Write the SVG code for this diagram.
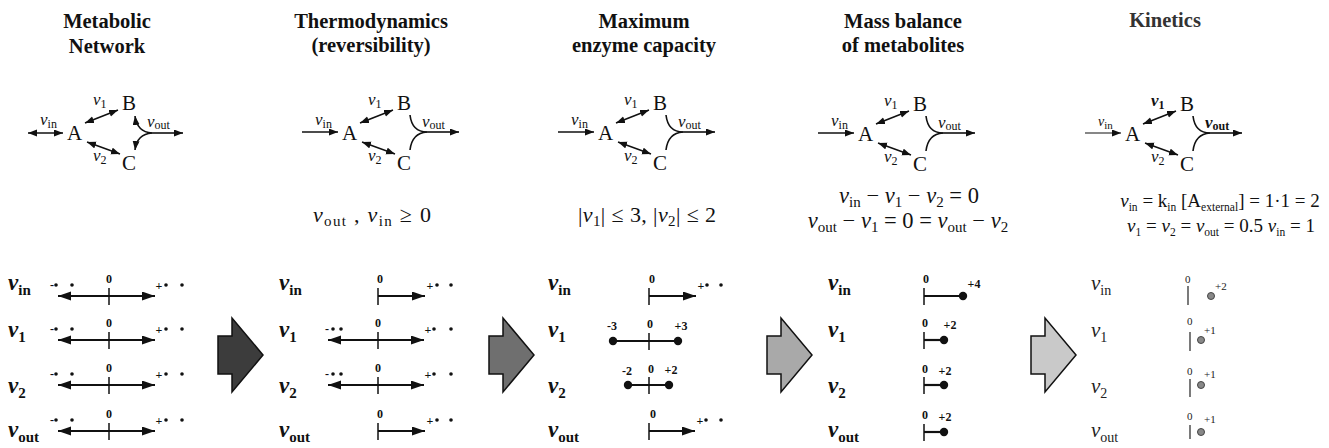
<svg xmlns="http://www.w3.org/2000/svg" width="1329" height="448" viewBox="0 0 1329 448">
<style>
text{font-family:"Liberation Serif","Times New Roman",serif;fill:#111}
.t{font-weight:bold;font-size:20.5px;text-anchor:middle}
.m{font-size:21px}
.nv{font-style:italic;font-size:17px}
.ns{font-style:normal;font-size:12px}
.eq{font-size:22px;text-anchor:middle}
.eq4{font-size:22.5px;text-anchor:middle}
.eq5{font-size:19px;text-anchor:middle}
.it{font-style:italic}
.sb{font-size:15px}
.sb5{font-size:11.5px}
.rl{font-style:italic;font-weight:bold;font-size:23px}
.rs{font-style:normal;font-size:15px}
.rl5{font-style:italic;font-size:21px;fill:#222}
.rs5{font-style:normal;font-size:14px}
.nb{font-weight:bold;font-size:12px;text-anchor:middle}
.nb5{font-size:11px;fill:#222}
.ln{stroke:#111;stroke-width:1.6;fill:none}
.rw{stroke:#111;stroke-width:2.2;fill:none}
.tk{stroke:#111;stroke-width:1.5}
.tk5{stroke:#333;stroke-width:1.3}
.dot{fill:#111}
.ball{fill:#111}
.gball{fill:#888;stroke:#444;stroke-width:1}
.big{stroke:#111;stroke-width:1.5}
</style>
<defs>
<marker id="sa" markerUnits="userSpaceOnUse" markerWidth="10" markerHeight="8" refX="9" refY="3.5" orient="auto-start-reverse"><path d="M0,0 L9,3.5 L0,7 z" fill="#111"/></marker>
<marker id="ah" markerUnits="userSpaceOnUse" markerWidth="14" markerHeight="10" refX="13" refY="4.5" orient="auto-start-reverse"><path d="M0,0 L13,4.5 L0,9 z" fill="#111"/></marker>
</defs>

<!-- titles -->
<g id="titles">
<text class="t" x="107" y="28">Metabolic</text>
<text class="t" x="107" y="53">Network</text>
<text class="t" x="371" y="28">Thermodynamics</text>
<text class="t" x="371" y="52">(reversibility)</text>
<text class="t" x="644" y="28">Maximum</text>
<text class="t" x="644" y="52">enzyme capacity</text>
<text class="t" x="903" y="28">Mass balance</text>
<text class="t" x="903" y="52">of metabolites</text>
<text class="t" x="1165" y="27" style="fill:#333">Kinetics</text>
</g>

<!-- networks -->
<g id="net1" transform="translate(67,0)">
<line class="ln" x1="-39" y1="133" x2="-4" y2="133" marker-start="url(#sa)" marker-end="url(#sa)"/>
<text class="nv" x="-27" y="125">ν<tspan class="ns" dy="3">in</tspan></text>
<text class="m" x="0" y="140">A</text>
<text class="m" x="55" y="110">B</text>
<text class="m" x="55" y="170">C</text>
<line class="ln" x1="18" y1="123" x2="51" y2="110" marker-start="url(#sa)" marker-end="url(#sa)"/>
<text class="nv" x="26" y="105">ν<tspan class="ns" dy="3">1</tspan></text>
<line class="ln" x1="20" y1="142" x2="53" y2="154" marker-start="url(#sa)" marker-end="url(#sa)"/>
<text class="nv" x="26" y="161">ν<tspan class="ns" dy="3">2</tspan></text>
<path class="ln" d="M85,133 Q70,132 68,116" marker-end="url(#sa)"/>
<path class="ln" d="M85,133 Q70,134 68,150" marker-end="url(#sa)"/>
<line class="ln" x1="85" y1="133" x2="116" y2="133" marker-end="url(#sa)"/>
<text class="nv" x="80" y="127">ν<tspan class="ns" dy="2">out</tspan></text>
</g>

<g id="net2" transform="translate(342,0)">
<line class="ln" x1="-40" y1="132" x2="-4" y2="132" marker-end="url(#sa)"/>
<text class="nv" x="-27" y="125">ν<tspan class="ns" dy="3">in</tspan></text>
<text class="m" x="0" y="140">A</text>
<text class="m" x="55" y="110">B</text>
<text class="m" x="55" y="170">C</text>
<line class="ln" x1="18" y1="123" x2="51" y2="110" marker-start="url(#sa)" marker-end="url(#sa)"/>
<text class="nv" x="26" y="105">ν<tspan class="ns" dy="3">1</tspan></text>
<line class="ln" x1="20" y1="142" x2="53" y2="154" marker-start="url(#sa)" marker-end="url(#sa)"/>
<text class="nv" x="26" y="161">ν<tspan class="ns" dy="3">2</tspan></text>
<path class="ln" d="M68,115 Q70,132 85,132"/>
<path class="ln" d="M68,150 Q70,133 85,132"/>
<line class="ln" x1="85" y1="132" x2="117" y2="132" marker-end="url(#sa)"/>
<text class="nv" x="80" y="127">ν<tspan class="ns" dy="2">out</tspan></text>
</g>

<g id="net3" transform="translate(598,0)">
<line class="ln" x1="-40" y1="132" x2="-4" y2="132" marker-end="url(#sa)"/>
<text class="nv" x="-27" y="125">ν<tspan class="ns" dy="3">in</tspan></text>
<text class="m" x="0" y="140">A</text>
<text class="m" x="55" y="110">B</text>
<text class="m" x="55" y="170">C</text>
<line class="ln" x1="18" y1="123" x2="51" y2="110" marker-start="url(#sa)" marker-end="url(#sa)"/>
<text class="nv" x="26" y="105">ν<tspan class="ns" dy="3">1</tspan></text>
<line class="ln" x1="20" y1="142" x2="53" y2="154" marker-start="url(#sa)" marker-end="url(#sa)"/>
<text class="nv" x="26" y="161">ν<tspan class="ns" dy="3">2</tspan></text>
<path class="ln" d="M68,115 Q70,132 85,132"/>
<path class="ln" d="M68,150 Q70,133 85,132"/>
<line class="ln" x1="85" y1="132" x2="117" y2="132" marker-end="url(#sa)"/>
<text class="nv" x="80" y="127">ν<tspan class="ns" dy="2">out</tspan></text>
</g>

<g id="net4" transform="translate(858,1)">
<line class="ln" x1="-40" y1="132" x2="-4" y2="132" marker-end="url(#sa)"/>
<text class="nv" x="-27" y="125">ν<tspan class="ns" dy="3">in</tspan></text>
<text class="m" x="0" y="140">A</text>
<text class="m" x="55" y="110">B</text>
<text class="m" x="55" y="170">C</text>
<line class="ln" x1="18" y1="123" x2="51" y2="110" marker-start="url(#sa)" marker-end="url(#sa)"/>
<text class="nv" x="26" y="105">ν<tspan class="ns" dy="3">1</tspan></text>
<line class="ln" x1="20" y1="142" x2="53" y2="154" marker-start="url(#sa)" marker-end="url(#sa)"/>
<text class="nv" x="26" y="161">ν<tspan class="ns" dy="3">2</tspan></text>
<path class="ln" d="M68,115 Q70,132 85,132"/>
<path class="ln" d="M68,150 Q70,133 85,132"/>
<line class="ln" x1="85" y1="132" x2="117" y2="132" marker-end="url(#sa)"/>
<text class="nv" x="80" y="127">ν<tspan class="ns" dy="2">out</tspan></text>
</g>

<g id="net5" transform="translate(1125,1)">
<line class="ln" x1="-40" y1="132" x2="-4" y2="132" marker-end="url(#sa)" style="stroke-width:1.2"/>
<text class="nv" x="-27" y="125" style="font-size:14px">ν<tspan class="ns" dy="3" style="font-size:11px">in</tspan></text>
<text class="m" x="0" y="140">A</text>
<text class="m" x="55" y="110">B</text>
<text class="m" x="55" y="170">C</text>
<line class="ln" x1="18" y1="123" x2="51" y2="110" marker-start="url(#sa)" marker-end="url(#sa)"/>
<text class="nv" x="26" y="105" style="font-weight:bold">ν<tspan class="ns" dy="3">1</tspan></text>
<line class="ln" x1="20" y1="142" x2="53" y2="154" marker-start="url(#sa)" marker-end="url(#sa)"/>
<text class="nv" x="26" y="161">ν<tspan class="ns" dy="3">2</tspan></text>
<path class="ln" d="M68,115 Q70,132 85,132"/>
<path class="ln" d="M68,150 Q70,133 85,132"/>
<line class="ln" x1="85" y1="132" x2="117" y2="132" marker-end="url(#sa)"/>
<text class="nv" x="80" y="127" style="font-weight:bold">ν<tspan class="ns" dy="2">out</tspan></text>
</g>

<!-- constraint equations -->
<g id="eqs">
<text class="eq" x="372" y="222" textLength="118"><tspan class="it">ν</tspan><tspan class="sb" dy="4">out</tspan><tspan dy="-4"> , </tspan><tspan class="it">ν</tspan><tspan class="sb" dy="4">in</tspan><tspan dy="-4"> ≥ 0</tspan></text>
<text class="eq" x="647" y="222" textLength="138">|<tspan class="it">ν</tspan><tspan class="sb" dy="4">1</tspan><tspan dy="-4">| ≤ 3, |</tspan><tspan class="it">ν</tspan><tspan class="sb" dy="4">2</tspan><tspan dy="-4">| ≤ 2</tspan></text>
<text class="eq4" x="909" y="203"><tspan class="it">ν</tspan><tspan class="sb" dy="4">in</tspan><tspan dy="-4"> − </tspan><tspan class="it">ν</tspan><tspan class="sb" dy="4">1</tspan><tspan dy="-4"> − </tspan><tspan class="it">ν</tspan><tspan class="sb" dy="4">2</tspan><tspan dy="-4"> = 0</tspan></text>
<text class="eq4" x="908" y="228"><tspan class="it">ν</tspan><tspan class="sb" dy="4">out</tspan><tspan dy="-4"> − </tspan><tspan class="it">ν</tspan><tspan class="sb" dy="4">1</tspan><tspan dy="-4"> = 0 = </tspan><tspan class="it">ν</tspan><tspan class="sb" dy="4">out</tspan><tspan dy="-4"> − </tspan><tspan class="it">ν</tspan><tspan class="sb" dy="4">2</tspan></text>
<text class="eq5" x="1220" y="207"><tspan class="it">ν</tspan><tspan class="sb5" dy="4">in</tspan><tspan dy="-4"> = k</tspan><tspan class="sb5" dy="4">in</tspan><tspan dy="-4"> [A</tspan><tspan class="sb5" dy="4">external</tspan><tspan dy="-4">] = 1·1 = 2</tspan></text>
<text class="eq5" x="1221" y="232"><tspan class="it">ν</tspan><tspan class="sb5" dy="4">1</tspan><tspan dy="-4"> = </tspan><tspan class="it">ν</tspan><tspan class="sb5" dy="4">2</tspan><tspan dy="-4">  = </tspan><tspan class="it">ν</tspan><tspan class="sb5" dy="4">out</tspan><tspan dy="-4"> = 0.5 </tspan><tspan class="it">ν</tspan><tspan class="sb5" dy="4">in</tspan><tspan dy="-4"> = 1</tspan></text>
</g>

<!-- big step arrows -->
<g id="steps">
<polygon class="big" fill="#3c3c3c" points="218,336 232,336 232,318 263,355 232,392 232,374 218,374"/>
<polygon class="big" fill="#6f6f6f" points="489,336 503,336 503,318 534,355 503,392 503,374 489,374"/>
<polygon class="big" fill="#a9a9a9" points="767,336 781,336 781,318 812,355 781,392 781,374 767,374"/>
<polygon class="big" fill="#c9c9c9" points="1031,336 1045,336 1045,318 1076,355 1045,392 1045,374 1031,374"/>
</g>

<!-- panel 1 flux ranges -->
<g id="ranges1">
<text class="rl" x="8" y="290">ν<tspan class="rs" dy="5">in</tspan></text>
<text class="rl" x="8" y="337">ν<tspan class="rs" dy="5">1</tspan></text>
<text class="rl" x="8" y="393">ν<tspan class="rs" dy="5">2</tspan></text>
<text class="rl" x="8" y="437">ν<tspan class="rs" dy="5">out</tspan></text>
<g>
<line class="rw" x1="58" y1="296" x2="155" y2="296" marker-start="url(#ah)" marker-end="url(#ah)"/>
<line class="tk" x1="109" y1="288" x2="109" y2="305"/>
<text class="nb" x="109" y="283">0</text>
<text class="nb" x="52" y="289">-</text><circle class="dot" cx="56" cy="285" r="1.8"/><circle class="dot" cx="72" cy="285" r="1.8"/>
<text class="nb" x="159" y="290">+</text><circle class="dot" cx="166" cy="285" r="1.8"/><circle class="dot" cx="182" cy="285" r="1.8"/>
</g>
<g>
<line class="rw" x1="58" y1="340" x2="155" y2="340" marker-start="url(#ah)" marker-end="url(#ah)"/>
<line class="tk" x1="109" y1="332" x2="109" y2="349"/>
<text class="nb" x="109" y="327">0</text>
<text class="nb" x="52" y="333">-</text><circle class="dot" cx="56" cy="329" r="1.8"/><circle class="dot" cx="72" cy="329" r="1.8"/>
<text class="nb" x="159" y="334">+</text><circle class="dot" cx="166" cy="329" r="1.8"/><circle class="dot" cx="182" cy="329" r="1.8"/>
</g>
<g>
<line class="rw" x1="58" y1="385" x2="155" y2="385" marker-start="url(#ah)" marker-end="url(#ah)"/>
<line class="tk" x1="109" y1="377" x2="109" y2="394"/>
<text class="nb" x="109" y="372">0</text>
<text class="nb" x="52" y="378">-</text><circle class="dot" cx="56" cy="374" r="1.8"/><circle class="dot" cx="72" cy="374" r="1.8"/>
<text class="nb" x="159" y="379">+</text><circle class="dot" cx="166" cy="374" r="1.8"/><circle class="dot" cx="182" cy="374" r="1.8"/>
</g>
<g>
<line class="rw" x1="58" y1="431" x2="155" y2="431" marker-start="url(#ah)" marker-end="url(#ah)"/>
<line class="tk" x1="109" y1="423" x2="109" y2="440"/>
<text class="nb" x="109" y="418">0</text>
<text class="nb" x="52" y="424">-</text><circle class="dot" cx="56" cy="420" r="1.8"/><circle class="dot" cx="72" cy="420" r="1.8"/>
<text class="nb" x="159" y="425">+</text><circle class="dot" cx="166" cy="420" r="1.8"/><circle class="dot" cx="182" cy="420" r="1.8"/>
</g>
</g>

<!-- panel 2 -->
<g id="ranges2">
<text class="rl" x="279" y="290">ν<tspan class="rs" dy="5">in</tspan></text>
<text class="rl" x="279" y="337">ν<tspan class="rs" dy="5">1</tspan></text>
<text class="rl" x="279" y="393">ν<tspan class="rs" dy="5">2</tspan></text>
<text class="rl" x="279" y="437">ν<tspan class="rs" dy="5">out</tspan></text>
<g>
<line class="rw" x1="378" y1="296" x2="425" y2="296" marker-end="url(#ah)"/>
<line class="tk" x1="378" y1="288" x2="378" y2="305"/>
<text class="nb" x="380" y="283">0</text>
<text class="nb" x="430" y="290">+</text><circle class="dot" cx="437" cy="285" r="1.8"/><circle class="dot" cx="451" cy="285" r="1.8"/>
</g>
<g>
<line class="rw" x1="328" y1="340" x2="424" y2="340" marker-start="url(#ah)" marker-end="url(#ah)"/>
<line class="tk" x1="378" y1="332" x2="378" y2="349"/>
<text class="nb" x="378" y="327">0</text>
<text class="nb" x="327" y="333">-</text><circle class="dot" cx="333" cy="329" r="1.8"/><circle class="dot" cx="341" cy="329" r="1.8"/>
<text class="nb" x="428" y="334">+</text><circle class="dot" cx="434" cy="329" r="1.8"/><circle class="dot" cx="451" cy="329" r="1.8"/>
</g>
<g>
<line class="rw" x1="328" y1="385" x2="424" y2="385" marker-start="url(#ah)" marker-end="url(#ah)"/>
<line class="tk" x1="378" y1="377" x2="378" y2="394"/>
<text class="nb" x="378" y="372">0</text>
<text class="nb" x="327" y="378">-</text><circle class="dot" cx="333" cy="374" r="1.8"/><circle class="dot" cx="341" cy="374" r="1.8"/>
<text class="nb" x="428" y="379">+</text><circle class="dot" cx="434" cy="374" r="1.8"/><circle class="dot" cx="451" cy="374" r="1.8"/>
</g>
<g>
<line class="rw" x1="378" y1="431" x2="425" y2="431" marker-end="url(#ah)"/>
<line class="tk" x1="378" y1="423" x2="378" y2="440"/>
<text class="nb" x="380" y="418">0</text>
<text class="nb" x="430" y="425">+</text><circle class="dot" cx="437" cy="420" r="1.8"/><circle class="dot" cx="451" cy="420" r="1.8"/>
</g>
</g>

<!-- panel 3 -->
<g id="ranges3">
<text class="rl" x="548" y="290">ν<tspan class="rs" dy="5">in</tspan></text>
<text class="rl" x="548" y="337">ν<tspan class="rs" dy="5">1</tspan></text>
<text class="rl" x="548" y="393">ν<tspan class="rs" dy="5">2</tspan></text>
<text class="rl" x="548" y="437">ν<tspan class="rs" dy="5">out</tspan></text>
<g>
<line class="rw" x1="649" y1="296" x2="696" y2="296" marker-end="url(#ah)"/>
<line class="tk" x1="649" y1="288" x2="649" y2="305"/>
<text class="nb" x="652" y="283">0</text>
<text class="nb" x="701" y="290">+</text><circle class="dot" cx="707" cy="285" r="1.8"/><circle class="dot" cx="721" cy="285" r="1.8"/>
</g>
<g>
<line class="rw" x1="613" y1="341" x2="678" y2="341"/>
<circle class="ball" cx="613" cy="341" r="4.2"/><circle class="ball" cx="678" cy="341" r="4.2"/>
<line class="tk" x1="649" y1="333" x2="649" y2="350"/>
<text class="nb" x="612" y="330">-3</text><text class="nb" x="650" y="328">0</text><text class="nb" x="681" y="330">+3</text>
</g>
<g>
<line class="rw" x1="628" y1="385" x2="669" y2="385"/>
<circle class="ball" cx="628" cy="385" r="4.2"/><circle class="ball" cx="669" cy="385" r="4.2"/>
<line class="tk" x1="649" y1="377" x2="649" y2="394"/>
<text class="nb" x="627" y="375">-2</text><text class="nb" x="651" y="373">0</text><text class="nb" x="671" y="374">+2</text>
</g>
<g>
<line class="rw" x1="649" y1="431" x2="695" y2="431" marker-end="url(#ah)"/>
<line class="tk" x1="649" y1="423" x2="649" y2="440"/>
<text class="nb" x="653" y="418">0</text>
<text class="nb" x="700" y="425">+</text><circle class="dot" cx="706" cy="420" r="1.8"/><circle class="dot" cx="721" cy="420" r="1.8"/>
</g>
</g>

<!-- panel 4 -->
<g id="ranges4">
<text class="rl" x="828" y="290">ν<tspan class="rs" dy="5">in</tspan></text>
<text class="rl" x="828" y="337">ν<tspan class="rs" dy="5">1</tspan></text>
<text class="rl" x="828" y="393">ν<tspan class="rs" dy="5">2</tspan></text>
<text class="rl" x="828" y="437">ν<tspan class="rs" dy="5">out</tspan></text>
<g>
<line class="rw" x1="924" y1="296" x2="963" y2="296"/>
<circle class="ball" cx="963" cy="296" r="4.2"/>
<line class="tk" x1="924" y1="288" x2="924" y2="305"/>
<text class="nb" x="926" y="283">0</text><text class="nb" x="974" y="288">+4</text>
</g>
<g>
<line class="rw" x1="924" y1="340" x2="944" y2="340"/>
<circle class="ball" cx="944" cy="340" r="4.2"/>
<line class="tk" x1="924" y1="332" x2="924" y2="349"/>
<text class="nb" x="925" y="327">0</text><text class="nb" x="950" y="329">+2</text>
</g>
<g>
<line class="rw" x1="924" y1="385" x2="944" y2="385"/>
<circle class="ball" cx="944" cy="385" r="4.2"/>
<line class="tk" x1="924" y1="377" x2="924" y2="394"/>
<text class="nb" x="925" y="373">0</text><text class="nb" x="945" y="375">+2</text>
</g>
<g>
<line class="rw" x1="924" y1="432" x2="944" y2="432"/>
<circle class="ball" cx="944" cy="432" r="4.2"/>
<line class="tk" x1="924" y1="424" x2="924" y2="441"/>
<text class="nb" x="925" y="419">0</text><text class="nb" x="945" y="421">+2</text>
</g>
</g>

<!-- panel 5 -->
<g id="ranges5">
<text class="rl5" x="1091" y="290">ν<tspan class="rs5" dy="5">in</tspan></text>
<text class="rl5" x="1091" y="337">ν<tspan class="rs5" dy="5">1</tspan></text>
<text class="rl5" x="1091" y="393">ν<tspan class="rs5" dy="5">2</tspan></text>
<text class="rl5" x="1091" y="437">ν<tspan class="rs5" dy="5">out</tspan></text>
<g>
<line class="tk5" x1="1188" y1="286" x2="1188" y2="305"/>
<circle class="gball" cx="1211" cy="296" r="3.5"/>
<text class="nb5" x="1185" y="283">0</text><text class="nb5" x="1215" y="290">+2</text>
</g>
<g>
<line class="tk5" x1="1190" y1="332" x2="1190" y2="351"/>
<circle class="gball" cx="1201" cy="340" r="3.5"/>
<text class="nb5" x="1187" y="325">0</text><text class="nb5" x="1204" y="334">+1</text>
</g>
<g>
<line class="tk5" x1="1190" y1="379" x2="1190" y2="397"/>
<circle class="gball" cx="1201" cy="385" r="3.5"/>
<text class="nb5" x="1187" y="375">0</text><text class="nb5" x="1204" y="378">+1</text>
</g>
<g>
<line class="tk5" x1="1190" y1="425" x2="1190" y2="439"/>
<circle class="gball" cx="1201" cy="432" r="3.5"/>
<text class="nb5" x="1187" y="420">0</text><text class="nb5" x="1204" y="423">+1</text>
</g>
</g>
</svg>
